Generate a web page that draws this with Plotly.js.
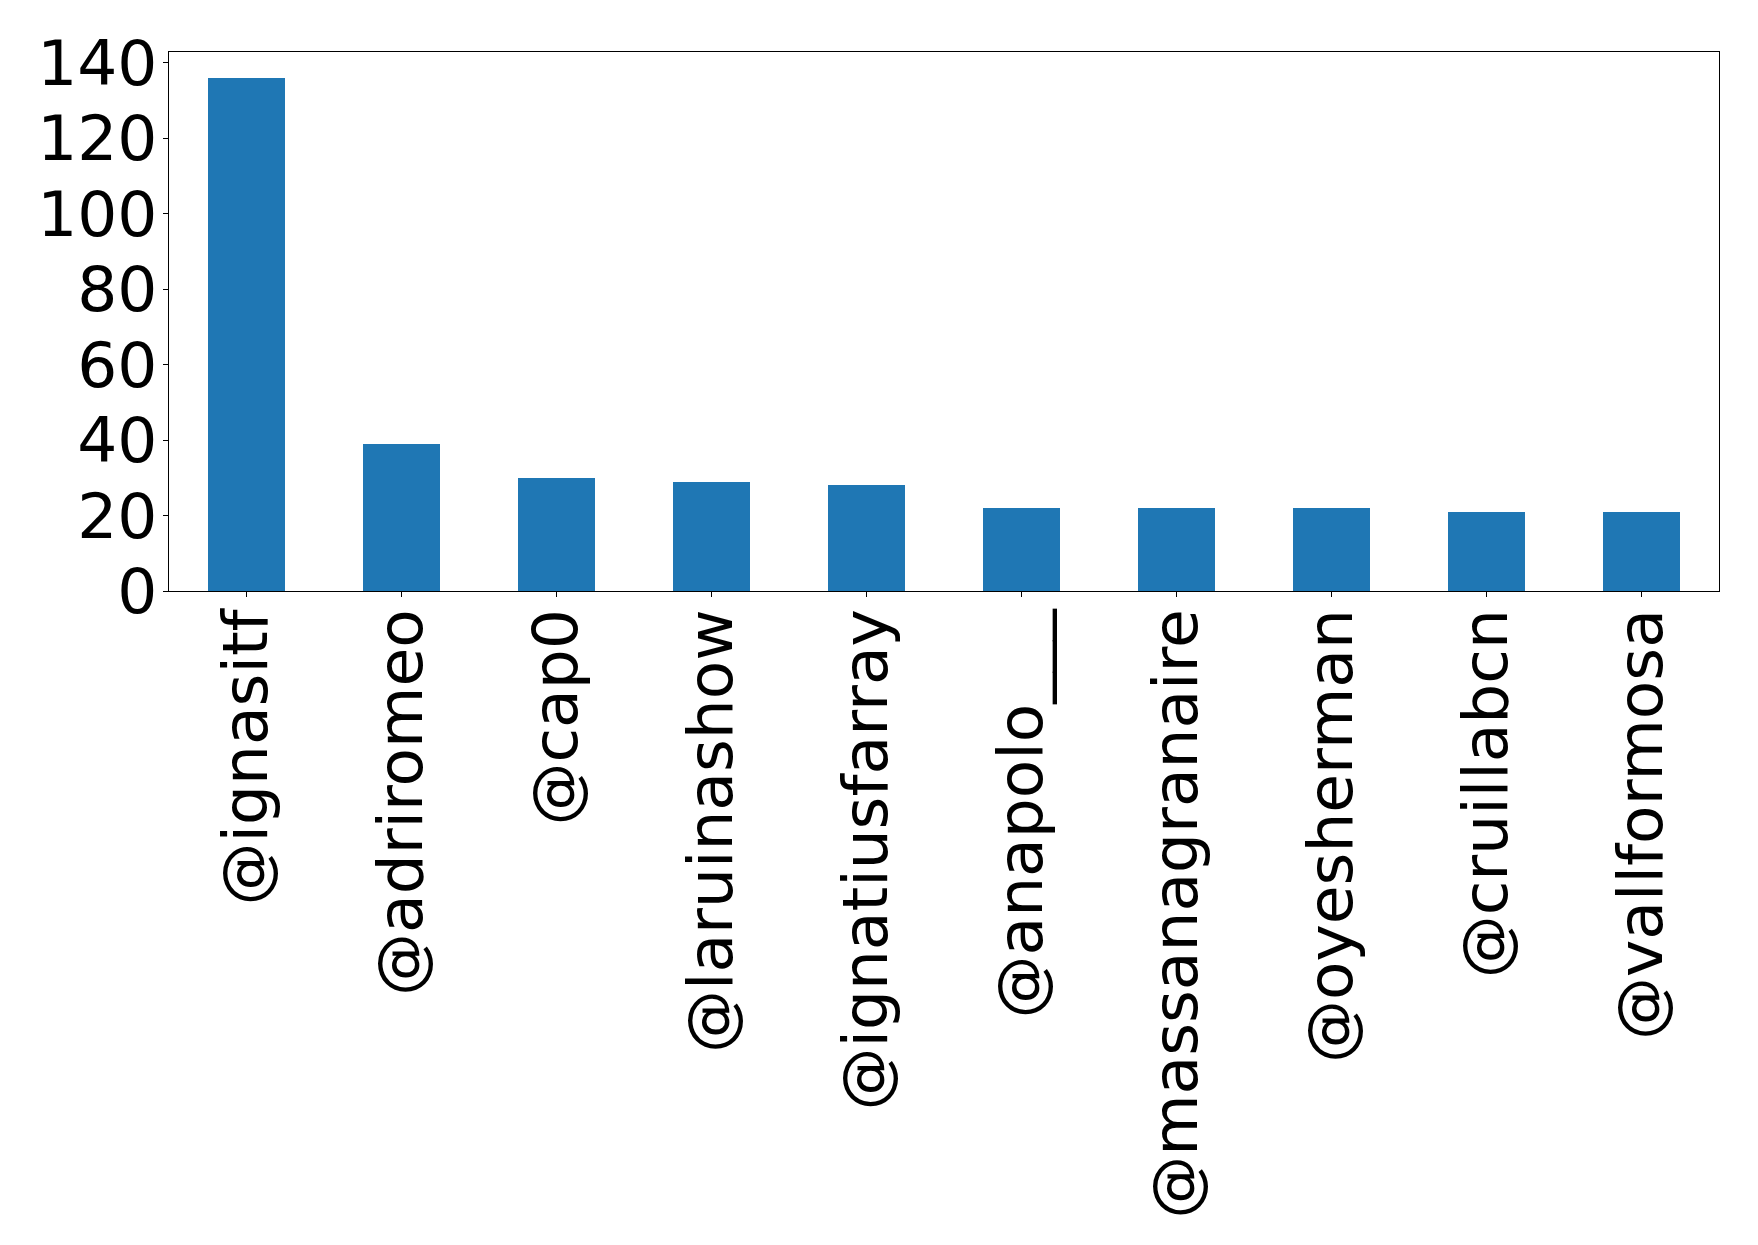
<!DOCTYPE html>
<html>
<head>
<meta charset="utf-8">
<script src="https://cdn.plot.ly/plotly-3.0.1.min.js"></script>
<style>html,body{margin:0;padding:0;background:#fff;}#chart{width:1758px;height:1245px;}</style>
</head>
<body>
<div id="chart"></div>
<script>
const users = ["@ignasitf", "@adriromeo", "@cap0", "@laruinashow", "@ignatiusfarray",
               "@anapolo___", "@massanagranaire", "@oyesherman", "@cruillabcn", "@vallformosa"];
const counts = [136, 39, 30, 29, 28, 22, 22, 22, 21, 21];
const yTicks = [0, 20, 40, 60, 80, 100, 120, 140];

const trace = {
  type: "bar",
  x: users,
  y: counts,
  width: 0.5,
  marker: {color: "#1f77b4", line: {width: 0}},
  hoverinfo: "x+y"
};

const axisFont = {family: "DejaVu Sans, sans-serif", size: 63, color: "#000"};

const layout = {
  width: 1758,
  height: 1245,
  margin: {l: 169, r: 39, t: 52, b: 654, pad: 0},
  paper_bgcolor: "#fff",
  plot_bgcolor: "#fff",
  showlegend: false,
  bargap: 0,
  xaxis: {
    type: "category",
    range: [-0.5, 9.5],
    tickangle: -90,
    tickfont: axisFont,
    ticks: "outside",
    ticklen: 5,
    tickwidth: 1,
    tickcolor: "#000",
    showline: true,
    linecolor: "#000",
    linewidth: 1,
    mirror: true,
    showgrid: false,
    zeroline: false,
    ticklabelstandoff: -13
  },
  yaxis: {
    range: [0, 142.8],
    tickvals: yTicks,
    ticktext: yTicks.map(String),
    tickfont: axisFont,
    ticks: "outside",
    ticklen: 5,
    tickwidth: 1,
    tickcolor: "#000",
    showline: true,
    linecolor: "#000",
    linewidth: 1,
    mirror: true,
    showgrid: false,
    zeroline: false,
    ticklabelstandoff: -7
  }
};

Plotly.newPlot("chart", [trace], layout, {displayModeBar: false, staticPlot: true});
</script>
</body>
</html>
